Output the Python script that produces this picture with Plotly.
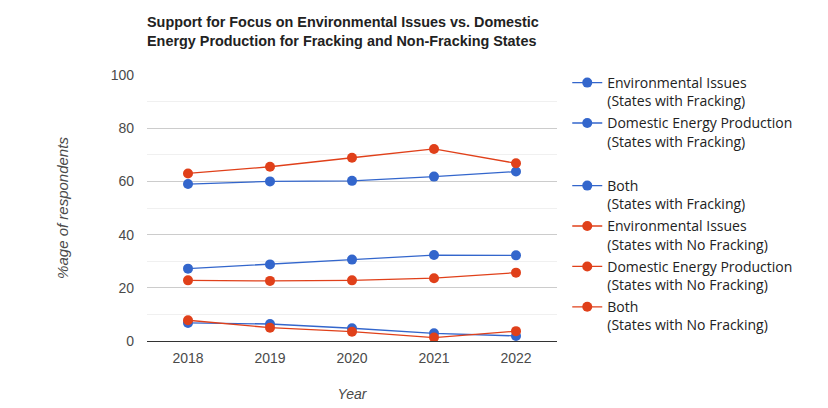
import plotly.graph_objects as go

years = ["2018", "2019", "2020", "2021", "2022"]

env_frack = [59.0, 60.0, 60.2, 61.8, 63.7]
dom_frack = [27.2, 28.8, 30.6, 32.3, 32.2]
both_frack = [6.8, 6.4, 4.8, 2.9, 1.9]
env_nofrack = [63.0, 65.5, 68.9, 72.2, 66.8]
dom_nofrack = [22.8, 22.6, 22.8, 23.6, 25.7]
both_nofrack = [7.8, 5.0, 3.5, 1.3, 3.7]

names = [
    "Environmental Issues<br>(States with Fracking)",
    "Domestic Energy Production<br>(States with Fracking)",
    "Both<br>(States with Fracking)",
    "Environmental Issues<br>(States with No Fracking)",
    "Domestic Energy Production<br>(States with No Fracking)",
    "Both<br>(States with No Fracking)",
]
series = [env_frack, dom_frack, both_frack, env_nofrack, dom_nofrack, both_nofrack]

BLUE = "#3366CC"
RED = "#E0401A"
colors = [BLUE, BLUE, BLUE, RED, RED, RED]

fig = go.Figure()
for i, (nm, vals, c) in enumerate(zip(names, series, colors)):
    fig.add_trace(go.Scatter(
        x=years, y=vals, name=nm, mode="lines+markers",
        line=dict(color=c, width=1.3),
        marker=dict(color=c, size=10),
        legendgroup=f"g{i}", legendrank=i * 2 + 1,
    ))
    if i == 1:
        # spacer entry in the legend
        fig.add_trace(go.Scatter(
            x=[None], y=[None], name=" ", mode="lines",
            line=dict(color="rgba(0,0,0,0)", width=0),
            legendgroup="spacer", legendrank=i * 2 + 2,
            hoverinfo="skip",
        ))

W, H = 820, 400
fig.update_layout(
    width=W, height=H,
    margin=dict(l=139, r=271, t=67, b=67, autoexpand=False),
    paper_bgcolor="white", plot_bgcolor="white",
    title=dict(
        text="Support for Focus on Environmental Issues vs. Domestic<br>Energy Production for Fracking and Non-Fracking States",
        x=139 / W, xanchor="left", y=0.953, yanchor="top",
        font=dict(family="Liberation Sans, Arial", size=14.4, color="#222222", weight="bold"),
    ),
    font=dict(family="Liberation Sans, Arial", size=14, color="#444444"),
    showlegend=True,
    legend=dict(
        x=1.025, xanchor="left", y=1.03, yanchor="top",
        font=dict(family="Open Sans, Noto Sans", size=14, color="#222222"),
        valign="top", tracegroupgap=1, itemwidth=30, maxheight=340,
        bgcolor="rgba(0,0,0,0)",
    ),
    xaxis=dict(
        type="category", range=[-0.5, 4.5], automargin=False,
        showgrid=False, showline=True, linecolor="#333333", linewidth=1,
        ticks="", ticklabelstandoff=4, tickfont=dict(size=14, color="#4a4a4a"),
        title=dict(text="<i>Year</i>", font=dict(size=14, color="#4a4a4a"), standoff=24),
    ),
    yaxis=dict(
        range=[0, 100], tickvals=[0, 20, 40, 60, 80, 100], automargin=False,
        showgrid=True, gridcolor="#CCCCCC", gridwidth=1,
        zeroline=False, ticks="", ticklabelstandoff=12,
        tickfont=dict(size=14, color="#4a4a4a"),
        minor=dict(tickvals=[10, 30, 50, 70, 90], showgrid=True, gridcolor="#F0F0F0"),
        title=dict(text="<i>%age of respondents</i>", font=dict(size=15, color="#4a4a4a"), standoff=38),
    ),
)

fig.write_html("out.html")
